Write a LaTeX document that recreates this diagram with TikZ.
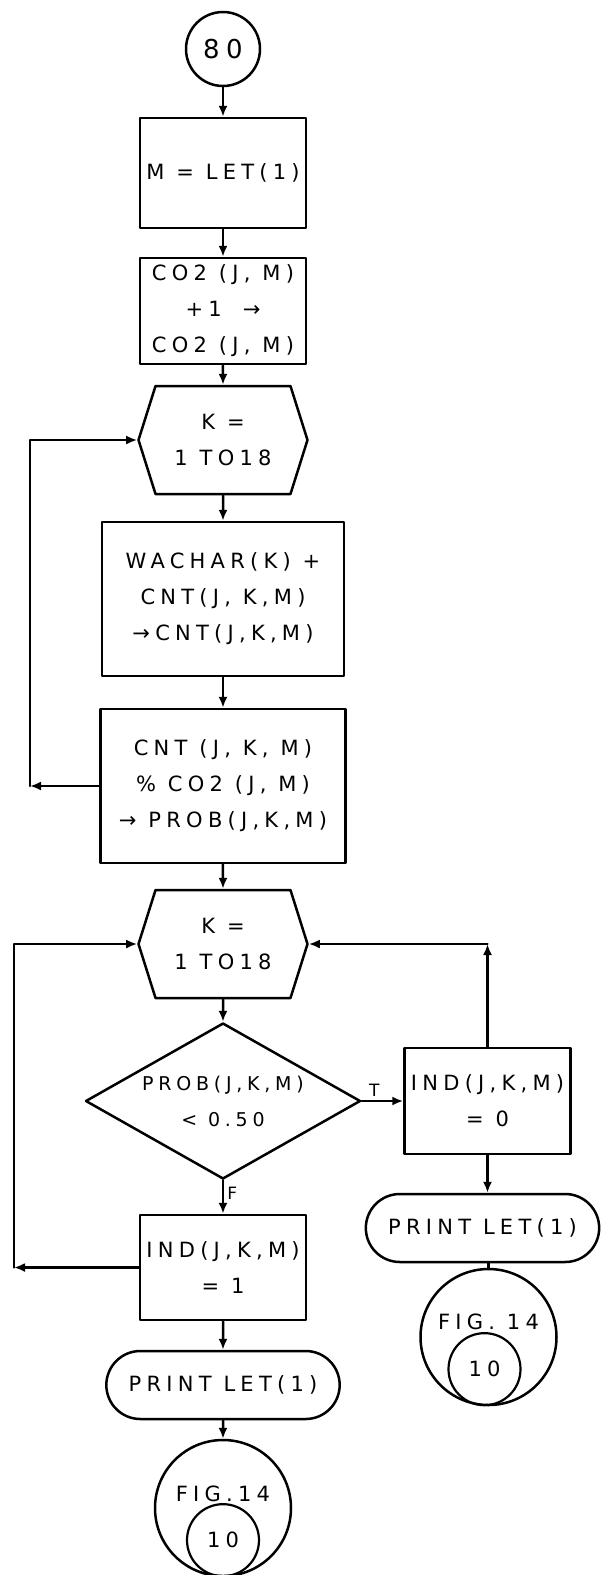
\documentclass[tikz,border=0pt]{standalone}
\usepackage{fontspec}
\usepackage{tikz}
\usetikzlibrary{arrows.meta,positioning,shapes.geometric,shapes.misc,shapes.symbols}
\newfontfamily\handfont[LetterSpace=25]{DejaVu Sans}
\newcommand{\chartfont}{\handfont\fontsize{21pt}{36pt}\selectfont}
\newcommand{\testfont}{\handfont\fontsize{19pt}{36pt}\selectfont}
\newcommand{\startfont}{\handfont\fontsize{26pt}{30pt}\selectfont}
\newcommand{\tagfont}{\handfont\fontsize{17pt}{18pt}\selectfont}
\tikzset{
every picture/.style={line cap=round,line join=round},
>={Latex[length=11pt,width=9pt]},
chart box/.style={
  draw,
  line width=2.5pt,
  minimum width=166pt,
  minimum height=108pt,
  align=center,
  inner sep=3pt,
  font=\chartfont
},
chart loop/.style={
  draw,
  signal,
  signal to=west and east,
  signal pointer angle=145,
  line width=2.5pt,
  minimum width=169pt,
  minimum height=108pt,
  align=center,
  inner sep=2pt,
  font=\chartfont
},
chart test/.style={
  draw,
  diamond,
  aspect=1.76,
  line width=2.5pt,
  minimum width=275pt,
  minimum height=156pt,
  align=center,
  inner sep=1pt,
  font=\testfont
},
chart print/.style={
  draw,
  rounded rectangle,
  line width=2.5pt,
  minimum width=240pt,
  minimum height=68pt,
  font=\chartfont
},
chart start/.style={draw, circle, line width=2.5pt, minimum size=74pt, inner sep=0pt, font=\startfont},
chart link/.style={draw, circle, line width=2.5pt, minimum size=136pt, inner sep=0pt},
chart inner/.style={draw, circle, line width=2.2pt, minimum size=72pt, inner sep=0pt, font=\chartfont},
chart flow/.style={draw, ->, line width=2.5pt},
chart line/.style={draw, line width=2.5pt},
chart text/.style={font=\chartfont, inner sep=1pt},
chart tag/.style={font=\tagfont, inner sep=3pt}
}
\begin{document}
\begin{tikzpicture}[node distance=30pt]
\useasboundingbox (0pt,0pt) rectangle (606pt,-1575pt);
\coordinate (railA) at (30pt,0pt);
\coordinate (railB) at (14pt,0pt);
% main column
\node[chart start] (start) at (223pt,-49pt) {80};
\node[chart box, below=29.5pt of start, minimum height=110pt] (setm) {M = LET(1)};
\node[chart box, below=27.5pt of setm, minimum height=106pt] (count) {CO2 (J, M)\\+1\quad →\\CO2 (J, M)};
\node[chart loop, below=19.5pt of count] (loopa) {K =\\1 TO18};
\node[chart box, below=25.5pt of loopa, minimum width=242pt, minimum height=154pt] (tally) {WACHAR(K) +\\CNT(J, K,M)\\→CNT(J,K,M)};
\node[chart box, below=30.5pt of tally, minimum width=245pt, minimum height=154pt] (ratio) {CNT (J, K, M)\\\% CO2 (J, M)\\→ PROB(J,K,M)};
\node[chart loop, below=24.5pt of ratio] (loopb) {K =\\1 TO18};
\node[chart test, below=22.5pt of loopb] (test) {PROB(J,K,M)\\< 0.50};
\node[chart box, below=33.5pt of test, minimum height=105pt] (indone) {IND(J,K,M)\\= 1};
\node[chart print, below=28.5pt of indone] (printa) {PRINT LET(1)};
\node[chart link, below=18.5pt of printa] (figa) {};
\node[chart inner, anchor=south] (figain) at (figa.south) {10};
\node[chart text] (figatext) at ([yshift=14pt]figa.center) {FIG.14};
% true branch
\node[chart box, right=41.5pt of test, minimum height=106pt] (indzero) {IND(J,K,M)\\= 0};
\node[chart print, below=37.5pt of indzero, xshift=-5pt] (printb) {PRINT LET(1)};
\node[chart link, below=4.5pt of printb, xshift=6pt] (figb) {};
\node[chart inner, anchor=south, xshift=-4pt] (figbin) at (figb.south) {10};
\node[chart text] (figbtext) at ([yshift=15pt]figb.center) {FIG. 14};
% connectors
\draw[chart flow] (start) -- (setm);
\draw[chart flow] (setm) -- (count);
\draw[chart flow] (count) -- (loopa);
\draw[chart flow] (loopa) -- (tally);
\draw[chart flow] (tally) -- (ratio);
\draw[chart flow] (ratio.west) -- (ratio.west -| railA);
\draw[chart flow] (ratio.west -| railA) -- (loopa.west -| railA) -- (loopa.west);
\draw[chart flow] (ratio) -- (loopb);
\draw[chart flow] (loopb) -- (test);
\draw[chart flow] (test) -- node[chart tag, above, pos=0.3] {T} (indzero);
\draw[chart flow] (test) -- node[chart tag, right, pos=0.4] {F} (indone);
\draw[chart flow] (indone.west) -- (indone.west -| railB);
\draw[chart flow] (indone.west -| railB) -- (loopb.west -| railB) -- (loopb.west);
\draw[chart flow] (indzero.north) -- (indzero.north |- loopb.east);
\draw[chart flow] (indzero.north |- loopb.east) -- (loopb.east);
\draw[chart flow] (indone) -- (printa);
\draw[chart flow] (printa) -- (figa);
\draw[chart flow] (indzero.south) -- (indzero.south |- printb.north);
\draw[chart line] (figb.north |- printb.south) -- (figb.north);
\end{tikzpicture}
\end{document}
